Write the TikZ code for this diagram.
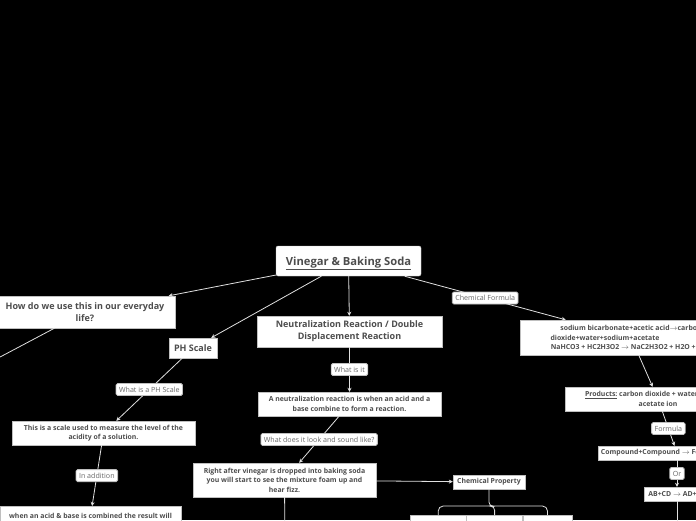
\documentclass[tikz,border=0pt]{standalone}
\usepackage{fontspec}
\setmainfont{Open Sans}
\usepackage{tikz}
\usetikzlibrary{arrows.meta}

\definecolor{ink}{HTML}{4D4D4D}
\definecolor{tagink}{HTML}{666666}
\definecolor{wire}{HTML}{E0E0E0}
\definecolor{rim}{HTML}{BFBFBF}

\newcommand{\yields}{\ensuremath{\rightarrow}}

\begin{document}
\begin{tikzpicture}[x=1pt,y=-1pt,
  topic/.style={draw=rim,fill=white,align=center,text=ink,inner sep=0pt,
    font=\bfseries\fontsize{6.9}{9.5}\selectfont,minimum height=24pt},
  bigtopic/.style={topic,font=\bfseries\fontsize{9}{12}\selectfont},
  tag/.style={draw=rim,fill=white,rounded corners=1.5pt,text=tagink,inner xsep=3pt,
    inner ysep=0pt,minimum height=12pt,font=\fontsize{7.1}{8}\selectfont},
  link/.style={draw=wire,line width=0.8pt,-{Stealth[length=4pt,width=4pt]}},
  plain/.style={draw=wire,line width=0.8pt}
]
  \useasboundingbox (0,0) rectangle (696,520);
  \clip (0,0) rectangle (696,520);
  \fill[black] (0,0) rectangle (696,520);

  % central topic and first ring
  \node[topic,rounded corners=2pt,minimum width=145pt,minimum height=30pt,text depth=0pt,
    font=\bfseries\fontsize{11.2}{13}\selectfont] (root) at (348.5,261) {\underline{Vinegar \& Baking Soda}};
  \node[bigtopic,minimum width=180pt,minimum height=32pt] (life) at (85,312) {How do we use this in our everyday\\life?};
  \node[bigtopic,minimum width=48pt,minimum height=20pt] (ph) at (193,348) {PH Scale};
  \node[bigtopic,minimum width=185pt,minimum height=31pt] (neut) at (349.5,331.5) {Neutralization Reaction / Double\\Displacement Reaction};
  \node[topic,minimum width=222pt,minimum height=35pt] (formula) at (631,337.5)
    {sodium bicarbonate+acetic acid\yields carbon\\dioxide+water+sodium+acetate\hspace*{52pt}\null\\NaHCO3 + HC2H3O2 \yields\ NaC2H3O2 + H2O + CO2};

  % formula branch
  \node[topic,minimum width=186pt] (prod) at (658,399) {\underline{Products:} carbon dioxide + water + sodium\\acetate ion};
  \node[topic,minimum width=158pt,minimum height=14pt] (comp) at (677,453) {Compound+Compound \yields\ Formula+Formula};
  \node[topic,minimum width=66pt,minimum height=14pt] (swap) at (677,494) {AB+CD \yields\ AD+CB};

  % ph branch
  \node[topic,minimum width=183pt] (scale) at (103.5,433) {This is a scale used to measure the level of the\\acidity of a solution.};
  \node[topic,minimum width=181pt,minimum height=20pt,anchor=north] (combo) at (90.5,506) {when an acid \& base is combined the result will};

  % reaction branch
  \node[topic,minimum width=183pt] (define) at (349.5,404) {A neutralization reaction is when an acid and a\\base combine to form a reaction.};
  \node[topic,minimum width=183pt,minimum height=34pt] (fizz) at (284.5,480) {Right after vinegar is dropped into baking soda\\you will start to see the mixture foam up and\\hear fizz.};
  \node[topic,minimum width=72pt,minimum height=14pt] (prop) at (489,482) {Chemical Property};
  \node[topic,minimum width=56pt,minimum height=20pt,anchor=north west] (cellA) at (410,515) {};
  \node[topic,minimum width=56pt,minimum height=20pt,anchor=north west] (cellB) at (cellA.north east) {};
  \node[topic,minimum width=49pt,minimum height=20pt,anchor=north west] (cellC) at (cellB.north east) {};

  % branches that run off the page
  \coordinate (lifeout) at (-100,410);
  \coordinate (fizzout) at (285,560);
  \coordinate (swapout) at (677,560);

  \draw[link] (root) -- (life);
  \draw[link] (root) -- (ph);
  \draw[link] (root) -- (neut);
  \draw[link] (root) -- node[tag] {Chemical Formula} (formula);
  \draw[link] (formula) -- (prod);
  \draw[link] (prod) -- node[tag] {Formula} (comp);
  \draw[link] (comp) -- node[tag] {Or} (swap);
  \draw[link] (ph) -- node[tag] {What is a PH Scale} (scale);
  \draw[link] (scale) -- node[tag] {In addition} (combo);
  \draw[link] (neut) -- node[tag] {What is it} (define);
  \draw[link] (define) -- node[tag] {What does it look and sound like?} (fizz);
  \draw[link] (fizz) -- (prop);
  \draw[plain] (life) -- (lifeout);
  \draw[plain] (fizz) -- (fizzout);
  \draw[plain] (swap) -- (swapout);
  \draw[plain,rounded corners=5pt] (cellA.north) -- ++(0,-9) -| (cellC.north);
  \draw[plain,rounded corners=4pt] (prop.south) -- ++(0,17) -| (cellB.north);
\end{tikzpicture}
\end{document}
